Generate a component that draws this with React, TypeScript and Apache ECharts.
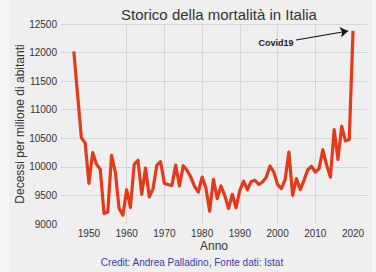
import React, { useEffect, useRef } from "react";
import * as echarts from "echarts";

// Annual deaths per million inhabitants in Italy, 1946–2020
const years = [
  1946, 1947, 1948, 1949, 1950, 1951, 1952, 1953, 1954, 1955,
  1956, 1957, 1958, 1959, 1960, 1961, 1962, 1963, 1964, 1965,
  1966, 1967, 1968, 1969, 1970, 1971, 1972, 1973, 1974, 1975,
  1976, 1977, 1978, 1979, 1980, 1981, 1982, 1983, 1984, 1985,
  1986, 1987, 1988, 1989, 1990, 1991, 1992, 1993, 1994, 1995,
  1996, 1997, 1998, 1999, 2000, 2001, 2002, 2003, 2004, 2005,
  2006, 2007, 2008, 2009, 2010, 2011, 2012, 2013, 2014, 2015,
  2016, 2017, 2018, 2019, 2020,
];

const mortality = [
  12020, 11260, 10510, 10420, 9710, 10250, 10045, 9960, 9185, 9210,
  10200, 9910, 9270, 9155, 9600, 9290, 10045, 10115, 9520, 9980,
  9475, 9620, 10030, 10090, 9710, 9690, 9675, 10030, 9665, 10020,
  9940, 9820, 9660, 9560, 9820, 9635, 9225, 9780, 9445, 9665,
  9500, 9270, 9520, 9285, 9590, 9750, 9600, 9745, 9765, 9695,
  9735, 9820, 10015, 9910, 9690, 9620, 9775, 10260, 9500, 9795,
  9600, 9765, 9950, 10010, 9910, 9970, 10300, 10030, 9820, 10650,
  10130, 10710, 10455, 10480, 12380,
];

const xTicks = [1950, 1960, 1970, 1980, 1990, 2000, 2010, 2020];

// Annotation anchors in data units: arrow tail, arrow head, label centre
const arrowFrom = [2004.9, 12220];
const arrowTo = [2018.7, 12378];
const labelAt = [1999.6, 12175];

const FONT = "'Liberation Sans', Arial, Helvetica, sans-serif";
const TEXT = "#333333";
const GRID_LINE = "#d6d6d6";

const plain = (v: number) => String(v);

export default function App() {
  const ref = useRef<HTMLDivElement>(null);

  useEffect(() => {
    if (!ref.current) return;
    const chart = echarts.init(ref.current, undefined, { renderer: "svg" });

    chart.setOption({
      animation: false,
      backgroundColor: "transparent",
      textStyle: { fontFamily: FONT },
      title: {
        text: "Storico della mortalità in Italia",
        left: 214,
        textAlign: "center",
        top: 2,
        textStyle: { fontSize: 15, fontWeight: "normal", color: TEXT, fontFamily: FONT },
      },
      grid: { left: 61, right: 9, top: 24, bottom: 48 },
      xAxis: {
        type: "value",
        min: 1942.6,
        max: 2023.7,
        name: "Anno",
        nameLocation: "middle",
        nameGap: 16,
        nameMoveOverlap: false,
        nameTextStyle: { fontSize: 12, color: TEXT, fontFamily: FONT },
        axisLine: { show: false },
        axisTick: { show: false, customValues: xTicks },
        axisLabel: {
          customValues: xTicks,
          formatter: plain,
          fontSize: 10,
          color: TEXT,
          margin: 4,
          fontFamily: FONT,
        },
        splitLine: {
          show: true,
          showMinLine: false,
          showMaxLine: false,
          lineStyle: { color: GRID_LINE, width: 1 },
        },
      },
      yAxis: {
        type: "value",
        min: 9000,
        max: 12500,
        interval: 500,
        name: "Decessi per milione di abitanti",
        nameLocation: "middle",
        nameRotate: 90,
        nameGap: 35,
        nameMoveOverlap: false,
        nameTextStyle: { fontSize: 12, color: TEXT, fontFamily: FONT },
        axisLine: { show: false },
        axisTick: { show: false },
        axisLabel: {
          formatter: plain,
          fontSize: 10,
          color: TEXT,
          margin: 4,
          fontFamily: FONT,
        },
        splitLine: {
          show: true,
          showMinLine: false,
          lineStyle: { color: GRID_LINE, width: 1 },
        },
      },
      series: [
        {
          type: "line",
          data: years.map((y, i) => [y, mortality[i]]),
          showSymbol: false,
          symbol: "none",
          lineStyle: { color: "#e5391c", width: 3.2, join: "round" },
          z: 3,
          markLine: {
            silent: true,
            symbol: ["none", "arrow"],
            symbolSize: 8,
            label: { show: false },
            lineStyle: { color: "#111111", width: 1.2, type: "solid" },
            data: [[{ coord: arrowFrom }, { coord: arrowTo }]],
          },
          markPoint: {
            silent: true,
            symbol: "rect",
            symbolSize: 1,
            itemStyle: { color: "transparent" },
            label: {
              show: true,
              position: "inside",
              formatter: "Covid19",
              fontSize: 9,
              fontWeight: "bold",
              color: "#222222",
              fontFamily: FONT,
            },
            data: [{ coord: labelAt }],
          },
        },
      ],
      graphic: [
        {
          type: "text",
          x: 192,
          y: 262,
          style: {
            text: "Credit: Andrea Palladino, Fonte dati: Istat",
            fontSize: 10,
            fontFamily: FONT,
            fill: "#3a3aaa",
            textAlign: "center",
            textVerticalAlign: "middle",
          },
        },
      ],
    });

    return () => chart.dispose();
  }, []);

  return (
    <div
      style={{
        position: "absolute",
        left: 0,
        top: 0,
        width: 376,
        height: 272,
        background: "#f7f7f8",
      }}
    >
      <div
        style={{
          position: "absolute",
          left: 9,
          top: 0,
          width: 363,
          height: 272,
          background: "#efefef",
        }}
      />
      <div
        ref={ref}
        style={{ position: "absolute", left: 0, top: 0, width: 376, height: 272 }}
      />
    </div>
  );
}
